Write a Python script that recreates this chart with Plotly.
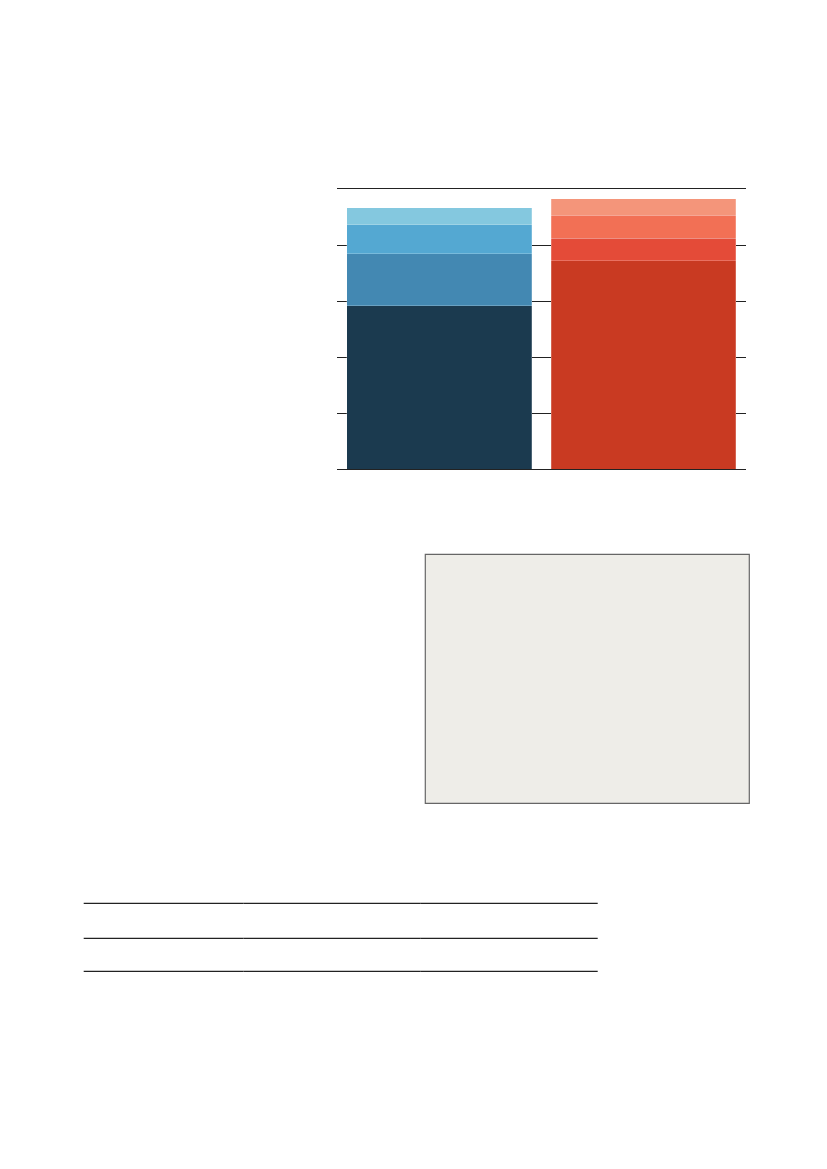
import plotly.graph_objects as go

# page size of the reference
W, H = 827, 1169
OFF = 8  # default body margin of the page the figure sits in

# stacked bars (axis 0-50)
categories = ['left', 'right']
left_values = [29.2, 9.3, 5.2, 3.0]
right_values = [37.2, 4.1, 4.1, 2.9]
left_colors = ['#1b3a4f', '#4388b2', '#54a8d2', '#84c8df']
right_colors = ['#c93a22', '#e44b38', '#f27055', '#f4957a']
y_ticks = [0, 10, 20, 30, 40, 50]

# lines of the (empty) table at the bottom, page pixels
table_cols = [83.7, 243.3, 420.8, 597.7]
table_rows = [903.3, 938.3, 971.3]


def px(x):
    return (x - OFF) / W


def py(y):
    return 1 - (y - OFF) / H


fig = go.Figure()

for i in range(len(left_values)):
    fig.add_trace(go.Bar(
        x=categories,
        y=[left_values[i], right_values[i]],
        marker=dict(color=[left_colors[i], right_colors[i]],
                    line=dict(color='rgba(255,255,255,0.35)', width=0.6)),
        showlegend=False,
        hoverinfo='skip'
    ))

fig.update_layout(
    barmode='stack',
    bargap=0.095,
    width=W,
    height=H,
    margin=dict(l=0, r=0, t=0, b=0),
    plot_bgcolor='white',
    paper_bgcolor='white',
    font=dict(family='Roboto', color='#111827'),
    xaxis=dict(domain=[px(337), px(745.7)], range=[-0.5, 1.5],
               showticklabels=False, ticks='', showgrid=False,
               showline=True, mirror=True, linecolor='#222222', linewidth=1.2,
               zeroline=False),
    yaxis=dict(domain=[py(469.3), py(189.3)], range=[0, 50],
               tickvals=y_ticks, showticklabels=False, ticks='',
               showgrid=True, gridcolor='#222222', gridwidth=1.2,
               zeroline=False, showline=False),
)

# grey box
fig.add_shape(type='rect', xref='paper', yref='paper',
              x0=px(425.3), x1=px(749.3), y0=py(803.3), y1=py(554.3),
              fillcolor='#eeede8', line=dict(color='#666666', width=1.2),
              layer='below')

# table rules
for r in table_rows:
    for c0, c1 in zip(table_cols[:-1], table_cols[1:]):
        fig.add_shape(type='line', xref='paper', yref='paper',
                      x0=px(c0), x1=px(c1), y0=py(r), y1=py(r),
                      line=dict(color='#222222', width=1.2))

fig.write_html("out.html", config={'displayModeBar': False})
